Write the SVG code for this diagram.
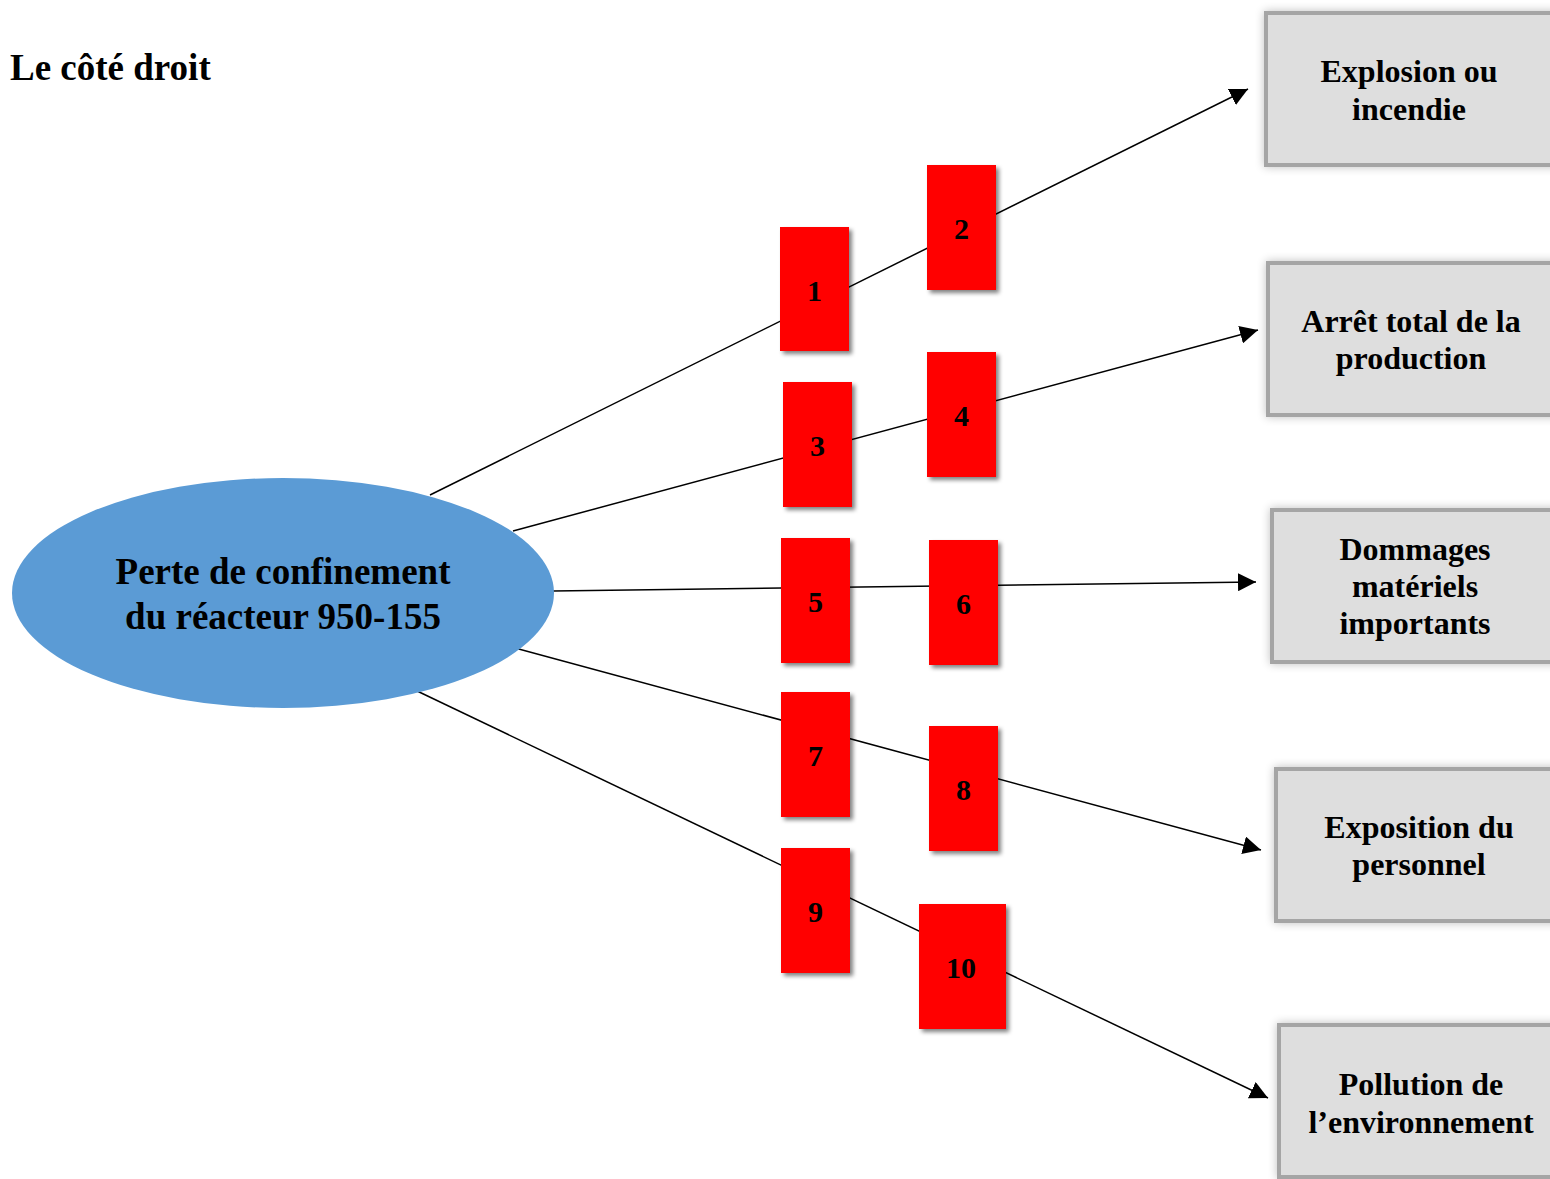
<svg xmlns="http://www.w3.org/2000/svg" width="1550" height="1179" viewBox="0 0 1550 1179">
  <defs>
    <filter id="dropShadow" x="-20%" y="-20%" width="150%" height="150%">
      <feGaussianBlur in="SourceAlpha" stdDeviation="2"/>
      <feOffset dx="3" dy="3" result="off"/>
      <feComponentTransfer><feFuncA type="linear" slope="0.5"/></feComponentTransfer>
      <feMerge><feMergeNode/><feMergeNode in="SourceGraphic"/></feMerge>
    </filter>
    <filter id="glow" x="-10%" y="-15%" width="120%" height="130%">
      <feGaussianBlur in="SourceAlpha" stdDeviation="5"/>
      <feComponentTransfer><feFuncA type="linear" slope="0.25"/></feComponentTransfer>
      <feMerge><feMergeNode/><feMergeNode in="SourceGraphic"/></feMerge>
    </filter>
    <marker id="arrow" viewBox="0 0 10 10" refX="10" refY="5" markerWidth="18" markerHeight="18" markerUnits="userSpaceOnUse" orient="auto">
      <path d="M0,0 L10,5 L0,10 z" fill="#000"/>
    </marker>
  </defs>
  <style>
    text { font-family: "Liberation Serif", "Times New Roman", serif; font-weight: bold; fill: #000; }
    .title { font-size: 37px; }
    .main { font-size: 37px; text-anchor: middle; }
    .out { font-size: 32px; text-anchor: middle; }
    .num { font-size: 30px; text-anchor: middle; }
    .barrier { fill: #ff0000; filter: url(#dropShadow); }
    .outcome { fill: #dedede; stroke: #a5a5a5; stroke-width: 4; filter: url(#glow); }
    .link { stroke: #000; stroke-width: 1.5; fill: none; marker-end: url(#arrow); }
  </style>

  <rect width="1550" height="1179" fill="#fff"/>

  <text class="title" x="10" y="80">Le côté droit</text>

  <!-- connectors from the top event to each consequence -->
  <g id="connectors">
    <line class="link" x1="430" y1="495" x2="1248" y2="89"/>
    <line class="link" x1="513" y1="531" x2="1258" y2="330"/>
    <line class="link" x1="553" y1="591" x2="1256" y2="582"/>
    <line class="link" x1="515" y1="648" x2="1261" y2="850"/>
    <line class="link" x1="415" y1="690" x2="1268" y2="1098"/>
  </g>

  <g id="top-event">
    <ellipse cx="283" cy="593" rx="271" ry="115" fill="#5b9bd5"/>
    <text class="main" x="283" y="584">Perte de confinement</text>
    <text class="main" x="283" y="629">du réacteur 950-155</text>
  </g>

  <!-- barriers -->
  <g id="barrier-1"><rect class="barrier" x="780" y="227" width="69" height="124"/><text class="num" x="814.5" y="301">1</text></g>
  <g id="barrier-2"><rect class="barrier" x="927" y="165" width="69" height="125"/><text class="num" x="961.5" y="239">2</text></g>
  <g id="barrier-3"><rect class="barrier" x="783" y="382" width="69" height="125"/><text class="num" x="817.5" y="456">3</text></g>
  <g id="barrier-4"><rect class="barrier" x="927" y="352" width="69" height="125"/><text class="num" x="961.5" y="426">4</text></g>
  <g id="barrier-5"><rect class="barrier" x="781" y="538" width="69" height="125"/><text class="num" x="815.5" y="612">5</text></g>
  <g id="barrier-6"><rect class="barrier" x="929" y="540" width="69" height="125"/><text class="num" x="963.5" y="614">6</text></g>
  <g id="barrier-7"><rect class="barrier" x="781" y="692" width="69" height="125"/><text class="num" x="815.5" y="766">7</text></g>
  <g id="barrier-8"><rect class="barrier" x="929" y="726" width="69" height="125"/><text class="num" x="963.5" y="800">8</text></g>
  <g id="barrier-9"><rect class="barrier" x="781" y="848" width="69" height="125"/><text class="num" x="815.5" y="922">9</text></g>
  <g id="barrier-10"><rect class="barrier" x="919" y="904" width="87" height="125"/><text class="num" x="961" y="978">10</text></g>

  <!-- consequences -->
  <g id="consequence-1">
    <rect class="outcome" x="1266" y="13" width="300" height="152"/>
    <text class="out" x="1409" y="82">Explosion ou</text>
    <text class="out" x="1409" y="120">incendie</text>
  </g>
  <g id="consequence-2">
    <rect class="outcome" x="1268" y="263" width="300" height="152"/>
    <text class="out" x="1411" y="332">Arrêt total de la</text>
    <text class="out" x="1411" y="369">production</text>
  </g>
  <g id="consequence-3">
    <rect class="outcome" x="1272" y="510" width="300" height="152"/>
    <text class="out" x="1415" y="560">Dommages</text>
    <text class="out" x="1415" y="597">matériels</text>
    <text class="out" x="1415" y="634">importants</text>
  </g>
  <g id="consequence-4">
    <rect class="outcome" x="1276" y="769" width="300" height="152"/>
    <text class="out" x="1419" y="838">Exposition du</text>
    <text class="out" x="1419" y="875">personnel</text>
  </g>
  <g id="consequence-5">
    <rect class="outcome" x="1279" y="1025" width="300" height="152"/>
    <text class="out" x="1421" y="1095">Pollution de</text>
    <text class="out" x="1421" y="1133">l’environnement</text>
  </g>
</svg>
